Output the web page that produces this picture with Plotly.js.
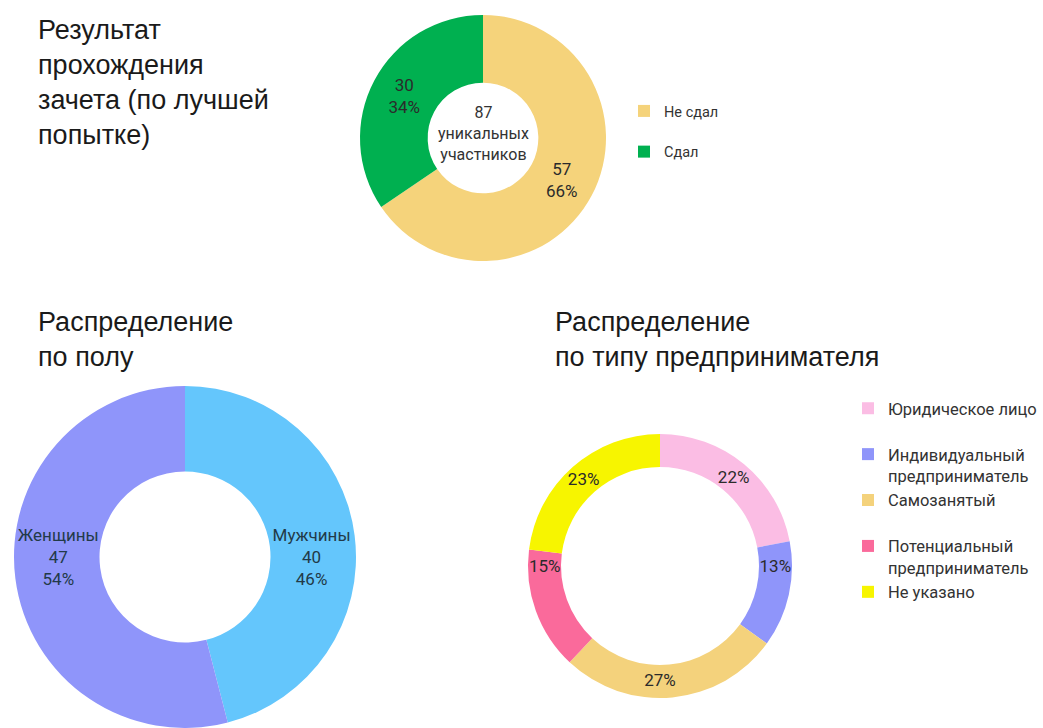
<!DOCTYPE html>
<html><head><meta charset="utf-8">
<script src="https://cdn.plot.ly/plotly-3.0.1.min.js"></script>
<style>html,body{margin:0;padding:0;background:#fff}#chart{width:1043px;height:728px}</style>
</head><body><div id="chart"></div>
<script>
// ---- Data ----
const resultLabels = ['Не сдал', 'Сдал'];
const resultValues = [57, 30];
const resultCenterWords = 'уникальных<br>участников';

const genderLabels = ['Мужчины', 'Женщины'];
const genderValues = [40, 47];

const typeLabels = ['Юридическое лицо', 'Индивидуальный<br>предприниматель', 'Самозанятый', 'Потенциальный<br>предприниматель', 'Не указано'];
const typeValues = [22, 13, 27, 15, 23];

const titleResult = 'Результат<br>прохождения<br>зачета (по лучшей<br>попытке)';
const titleGender = 'Распределение<br>по полу';
const titleType = 'Распределение<br>по типу предпринимателя';

// ---- Helpers ----
const W = 1043, H = 728;
const px = x => x / W;
const py = y => 1 - y / H;
const FONT = 'Roboto, "Noto Sans", sans-serif';
const TFONT = '"Liberation Sans", Arial, sans-serif';
const twoLine = l => l.indexOf('<br>') >= 0 ? l : l + '<br>\u00a0';
const total = resultValues.reduce((a, b) => a + b, 0);

const trace1 = {
  type: 'pie', labels: resultLabels.map(twoLine), values: resultValues,
  sort: false, direction: 'clockwise', rotation: 0, hole: 0.45,
  domain: {x: [px(360), px(606)], y: [py(261), py(15)]},
  marker: {colors: ['#F5D37B', '#00B050']},
  texttemplate: '%{value}<br>%{percent:.0%}', textposition: 'inside', insidetextorientation: 'horizontal',
  textfont: {family: FONT, size: 17, color: '#2b2b2b'},
  hoverinfo: 'label+value+percent', legend: 'legend', showlegend: true
};
const trace2 = {
  type: 'pie', labels: genderLabels, values: genderValues,
  sort: false, direction: 'clockwise', rotation: 0, hole: 0.5,
  domain: {x: [px(13), px(357)], y: [0, py(386)]},
  marker: {colors: ['#64C6FC', '#8F95FA']},
  texttemplate: '%{label}<br>%{value}<br>%{percent:.0%}', textposition: 'inside', insidetextorientation: 'horizontal',
  textfont: {family: FONT, size: 17, color: '#223a48'},
  hoverinfo: 'label+value+percent', showlegend: false
};
const trace3 = {
  type: 'pie', labels: typeLabels.map(twoLine), values: typeValues,
  sort: false, direction: 'clockwise', rotation: 0, hole: 0.75,
  domain: {x: [px(528), px(792)], y: [py(698), py(434)]},
  marker: {colors: ['#FBBDE4', '#8F95FA', '#F4D27C', '#FA6A9B', '#F7F500']},
  texttemplate: '%{percent:.0%}', textposition: 'inside', insidetextorientation: 'horizontal',
  textfont: {family: FONT, size: 17, color: '#2b2b2b'},
  hoverinfo: 'label+percent', legend: 'legend2', showlegend: true
};

const layout = {
  width: W, height: H, margin: {l: 0, r: 0, t: 0, b: 0},
  paper_bgcolor: '#ffffff', plot_bgcolor: '#ffffff',
  uniformtext: {mode: 'show', minsize: 17},
  legend: {x: px(624), y: py(95), xanchor: 'left', yanchor: 'top', valign: 'top',
           font: {family: FONT, size: 14.5, color: '#333333'}, bgcolor: 'rgba(0,0,0,0)'},
  legend2: {x: px(848), y: py(391), xanchor: 'left', yanchor: 'top', valign: 'top',
            font: {family: FONT, size: 16.5, color: '#333333'}, bgcolor: 'rgba(0,0,0,0)'},
  annotations: [
    {text: titleResult, x: px(36), y: py(13), xref: 'paper', yref: 'paper', xanchor: 'left', yanchor: 'top',
     align: 'left', showarrow: false, font: {family: TFONT, size: 27, color: '#1a1a1a'}},
    {text: titleGender, x: px(36), y: py(305), xref: 'paper', yref: 'paper', xanchor: 'left', yanchor: 'top',
     align: 'left', showarrow: false, font: {family: TFONT, size: 27, color: '#1a1a1a'}},
    {text: titleType, x: px(553), y: py(305), xref: 'paper', yref: 'paper', xanchor: 'left', yanchor: 'top',
     align: 'left', showarrow: false, font: {family: TFONT, size: 27, color: '#1a1a1a'}},
    {text: total + '<br>' + resultCenterWords, x: px(483), y: py(133), xref: 'paper', yref: 'paper',
     xanchor: 'center', yanchor: 'middle', align: 'center', showarrow: false,
     font: {family: FONT, size: 16, color: '#333333'}}
  ]
};

Plotly.newPlot('chart', [trace1, trace2, trace3], layout, {displayModeBar: false, staticPlot: true});
</script>
</body></html>
